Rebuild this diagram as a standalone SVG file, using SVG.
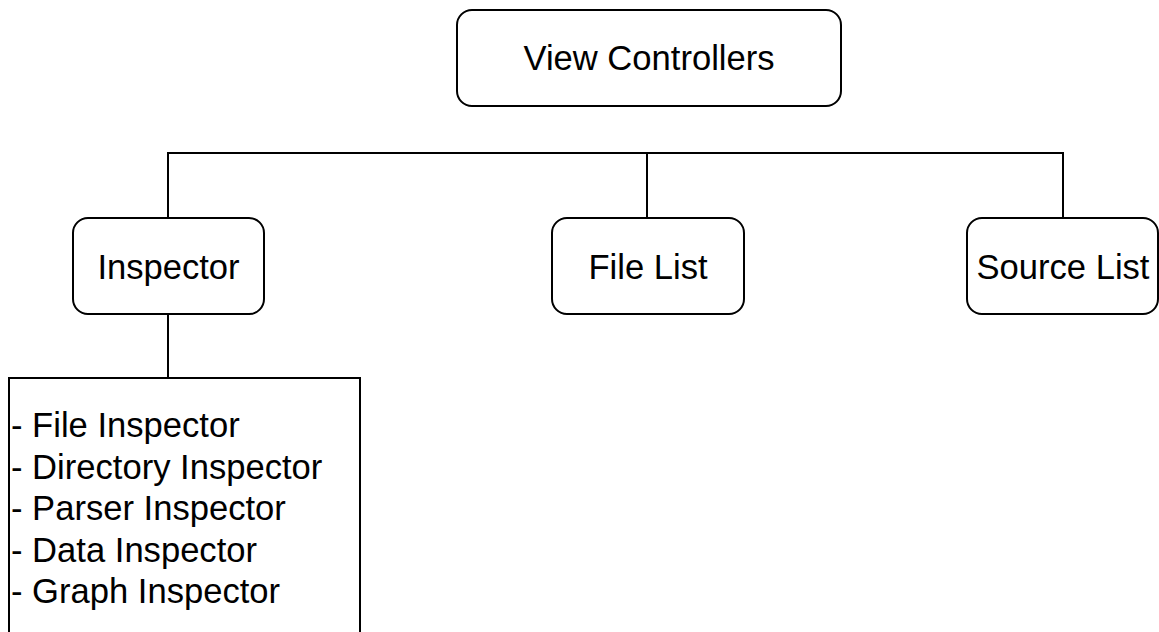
<svg xmlns="http://www.w3.org/2000/svg" width="1159" height="632" viewBox="0 0 1159 632">
<style>
.box{fill:#fff;stroke:#000;stroke-width:2}
.lbl{font-family:Arial,"Liberation Sans",Helvetica,sans-serif;font-size:34.6px;fill:#000}
.c{text-anchor:middle}
.con{fill:none;stroke:#000;stroke-width:2}
</style>
<rect width="1159" height="632" fill="#fff"/>
<g id="connectors">
<path class="con" d="M168,218 V153 H1063 V218"/>
<path class="con" d="M647,153 V218"/>
<path class="con" d="M168,314 V378"/>
</g>
<g id="view-controllers">
<rect class="box" x="457" y="10" width="384" height="96" rx="15"/>
<text class="lbl c" x="649" y="70" font-family="Liberation Sans">View Controllers</text>
</g>
<g id="inspector">
<rect class="box" x="73" y="218" width="191" height="96" rx="15"/>
<text class="lbl c" x="168.5" y="279">Inspector</text>
</g>
<g id="file-list">
<rect class="box" x="552" y="218" width="192" height="96" rx="15"/>
<text class="lbl c" x="648" y="279">File List</text>
</g>
<g id="source-list">
<rect class="box" x="967" y="218" width="191" height="96" rx="15"/>
<text class="lbl c" x="1063" y="279">Source List</text>
</g>
<g id="inspector-list">
<rect class="box" x="9" y="378" width="351" height="270"/>
<text class="lbl" x="11" y="437">- File Inspector</text>
<text class="lbl" x="11" y="478.5">- Directory Inspector</text>
<text class="lbl" x="11" y="520">- Parser Inspector</text>
<text class="lbl" x="11" y="561.5">- Data Inspector</text>
<text class="lbl" x="11" y="603">- Graph Inspector</text>
</g>
</svg>
